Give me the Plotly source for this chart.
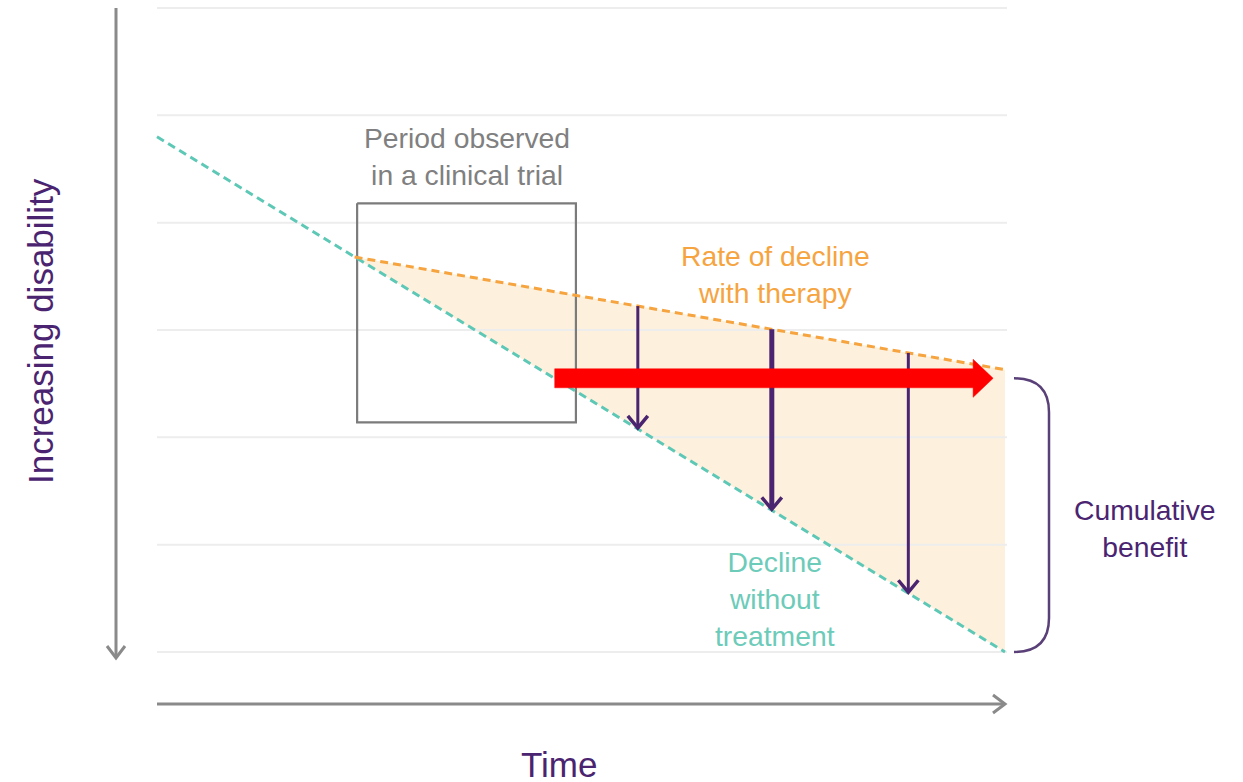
import numpy as np
import plotly.graph_objects as go

# ---------------- data (conceptual units) ----------------
disability_levels = [0, 1, 2, 3, 4, 5, 6]          # horizontal reference lines
time_span = [0, 10]                                   # extent of the time axis

untreated_time = [0, 10]                              # decline without treatment
untreated_disability = [1.2, 6.0]

therapy_time = [2.33, 10]                             # rate of decline with therapy
therapy_disability = [2.32, 3.37]

trial_time = [2.36, 4.94]                             # clinical-trial window
trial_disability = [1.82, 3.86]

benefit_arrow_time = [5.67, 7.25, 8.86]               # benefit arrows
extrapolation_time = [4.69, 9.86]                     # red extrapolation arrow
extrapolation_level = 3.45

labels = {
    "trial": "Period observed<br>in a clinical trial",
    "therapy": "Rate of decline<br>with therapy",
    "untreated": "Decline<br>without<br>treatment",
    "benefit": "Cumulative<br>benefit",
    "x": "Time",
    "y": "Increasing disability",
}

# ---------------- styling ----------------
W, H = 1243, 782
X0_PX, PX_PER_T = 157, 84.8       # pixel position of t=0 and pixels per time unit
Y0_PX, PX_PER_D = 8, 107.33       # pixel position of level 0 and pixels per level

TEAL = "#5dc8b6"
ORANGE = "#f6a43f"
PURPLE = "#4a2470"
GRAY = "#8a8a8a"
BOX_GRAY = "#7b7b7b"
GRID = "#ededed"
FILL = "#fdf0dc"
RED = "#ff0000"
FONT = "Liberation Sans, Arial, sans-serif"
LABEL_SIZE = 28.3
TITLE_SIZE = 35


def dx(px):
    return px / PX_PER_T


def dy(px):
    return px / PX_PER_D


fig = go.Figure()

# shaded benefit area between therapy line and untreated line
t_end = therapy_time[-1]
poly_t = list(therapy_time) + [t_end, therapy_time[0]]
poly_d = list(therapy_disability) + [
    float(np.interp(t_end, untreated_time, untreated_disability)),
    therapy_disability[0],
]
fig.add_trace(go.Scatter(x=poly_t, y=poly_d, fill="toself", fillcolor=FILL,
                         mode="lines", line=dict(width=0), hoverinfo="skip"))

# horizontal reference lines
gx, gy = [], []
for lv in disability_levels:
    gx += [time_span[0], time_span[1] - dx(-2), None]
    gy += [lv, lv, None]
fig.add_trace(go.Scatter(x=gx, y=gy, mode="lines",
                         line=dict(color=GRID, width=2), hoverinfo="skip"))

# clinical-trial window
fig.add_trace(go.Scatter(
    x=[trial_time[0], trial_time[1], trial_time[1], trial_time[0], trial_time[0]],
    y=[trial_disability[0], trial_disability[0], trial_disability[1], trial_disability[1], trial_disability[0]],
    mode="lines", line=dict(color=BOX_GRAY, width=2.2), hoverinfo="skip"))

# dashed lines
fig.add_trace(go.Scatter(x=untreated_time, y=untreated_disability, mode="lines",
                         line=dict(color=TEAL, width=3, dash="8px,5px"), hoverinfo="skip"))
fig.add_trace(go.Scatter(x=therapy_time, y=therapy_disability, mode="lines",
                         line=dict(color=ORANGE, width=3, dash="8px,5px"), hoverinfo="skip"))

# benefit arrows (vertical, from therapy line down to untreated line)
arrow_widths = [3, 5, 3]
for t, w in zip(benefit_arrow_time, arrow_widths):
    top = float(np.interp(t, therapy_time, therapy_disability))
    bot = float(np.interp(t, untreated_time, untreated_disability))
    fig.add_trace(go.Scatter(x=[t, t], y=[top, bot - dy(2)], mode="lines",
                             line=dict(color=PURPLE, width=w), hoverinfo="skip"))
    fig.add_trace(go.Scatter(x=[t - dx(10), t, t + dx(10)],
                             y=[bot - dy(13), bot - dy(1), bot - dy(13)], mode="lines",
                             line=dict(color=PURPLE, width=3.5), hoverinfo="skip"))

# red extrapolation arrow (filled polygon)
xa, xb = extrapolation_time
yl = extrapolation_level
hx = xb - dx(20)
fig.add_trace(go.Scatter(
    x=[xa, hx, hx, xb, hx, hx, xa, xa],
    y=[yl - dy(9.5), yl - dy(9.5), yl - dy(19), yl, yl + dy(19), yl + dy(9.5), yl + dy(9.5), yl - dy(9.5)],
    fill="toself", fillcolor=RED, mode="lines", line=dict(color=RED, width=0.5),
    hoverinfo="skip"))

# vertical axis arrow (increasing disability downward)
ax_t = time_span[0] - dx(41)
ax_bot = disability_levels[-1] + dy(6)
fig.add_trace(go.Scatter(x=[ax_t, ax_t], y=[disability_levels[0], ax_bot], mode="lines",
                         line=dict(color=GRAY, width=3), hoverinfo="skip"))
fig.add_trace(go.Scatter(x=[ax_t - dx(9), ax_t, ax_t + dx(9)],
                         y=[ax_bot - dy(12), ax_bot, ax_bot - dy(12)], mode="lines",
                         line=dict(color=GRAY, width=3), hoverinfo="skip"))

# horizontal axis arrow (time)
tx_d = disability_levels[-1] + dy(52)
tx_end = time_span[1]
fig.add_trace(go.Scatter(x=[time_span[0], tx_end], y=[tx_d, tx_d], mode="lines",
                         line=dict(color=GRAY, width=3), hoverinfo="skip"))
fig.add_trace(go.Scatter(x=[tx_end - dx(12), tx_end, tx_end - dx(12)],
                         y=[tx_d - dy(9), tx_d, tx_d + dy(9)], mode="lines",
                         line=dict(color=GRAY, width=3), hoverinfo="skip"))

# bracket for cumulative benefit
b_top = extrapolation_level
b_bot = disability_levels[-1]
bx0 = time_span[1] + dx(9)
bx1 = time_span[1] + dx(44)
path = (f"M {bx0},{b_top} Q {bx1},{b_top} {bx1},{b_top + dy(34)} "
        f"L {bx1},{b_bot - dy(34)} Q {bx1},{b_bot} {bx0},{b_bot}")
fig.add_shape(type="path", path=path, xref="x", yref="y",
              line=dict(color="#5a4078", width=2.5))

# ---------------- text ----------------
def ann(text, x, y, color, size, angle=0):
    fig.add_annotation(text=text, x=x, y=y, xref="x", yref="y", showarrow=False,
                       font=dict(family=FONT, size=size, color=color),
                       align="center", xanchor="center", yanchor="middle",
                       textangle=angle)


ann(labels["trial"], sum(trial_time) / 2, trial_disability[0] - dy(47), "#808080", LABEL_SIZE)
ann(labels["therapy"], 7.29, 2.48, ORANGE, LABEL_SIZE)
ann(labels["untreated"], 7.29, 5.51, "#6ccbb9", LABEL_SIZE)
ann(labels["benefit"], 11.65, 4.85, PURPLE, LABEL_SIZE)
ann(labels["x"], 4.74, 7.05, PURPLE, TITLE_SIZE)
ann(labels["y"], time_span[0] - dx(117), 3.01, PURPLE, TITLE_SIZE, angle=-90)

fig.update_layout(
    width=W, height=H,
    margin=dict(l=0, r=0, t=0, b=0),
    paper_bgcolor="white", plot_bgcolor="white",
    showlegend=False,
    xaxis=dict(range=[-X0_PX / PX_PER_T, (W - X0_PX) / PX_PER_T], visible=False, fixedrange=True),
    yaxis=dict(range=[(H - Y0_PX) / PX_PER_D, -Y0_PX / PX_PER_D], visible=False, fixedrange=True),
)

fig.write_html("out.html", config={"displayModeBar": False},
               post_script="document.body.style.margin='0';document.body.style.overflow='hidden';")
